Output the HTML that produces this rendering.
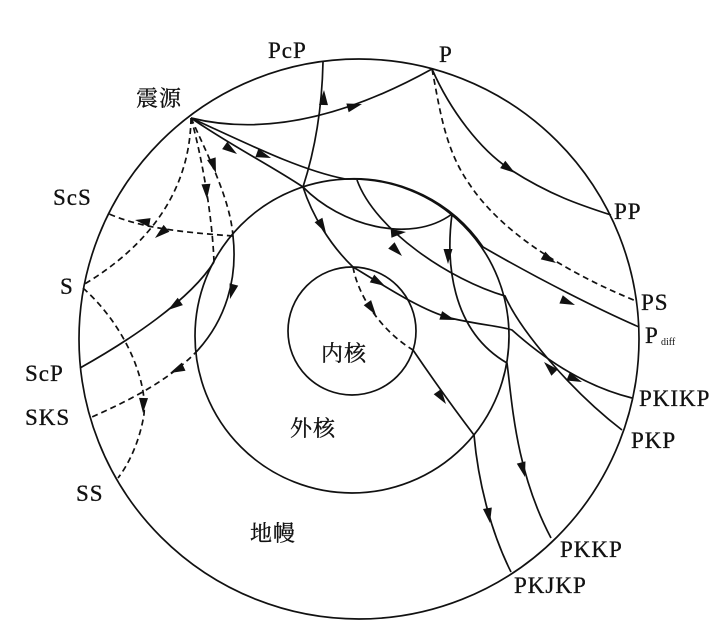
<!DOCTYPE html>
<html><head><meta charset="utf-8"><style>
html,body{margin:0;padding:0;background:#fff;}
svg{display:block;}
text{font-family:"Liberation Serif","Noto Serif CJK SC",serif;font-size:23px;fill:#111;letter-spacing:1px;stroke:#111;stroke-width:0.3px;}
.cjk{font-family:"Liberation Serif","Noto Serif CJK SC","Noto Sans CJK SC",serif;font-size:22px;}
</style></head><body>
<svg width="727" height="644" viewBox="0 0 727 644" xmlns="http://www.w3.org/2000/svg">
<g fill="none" stroke="#111" stroke-width="1.7">
<circle cx="359" cy="339" r="280"/>
<circle cx="352" cy="336" r="157"/>
<circle cx="352" cy="331" r="64"/>
<path d="M191,118 C260,135 340,120 432,69"/>
<path d="M191,118 C230,145 270,165 303,187"/>
<path d="M303,187 C315,150 322,110 323,62"/>
<path d="M191,118 C250,145 300,170 345,179 A157,157 0 0 1 483,247 C540,280 600,310 639,327"/>
<path d="M303,187 C340,225 410,245 452,214"/>
<path d="M452,214 C446,260 450,330 507,363 C512,400 515,470 551,538"/>
<path d="M357,180 C375,230 450,280 505,296 C520,330 570,390 622,430"/>
<path d="M303,187 C312,215 330,245 353,267"/>
<path d="M353,267 C380,283 420,310 450,318 C480,325 500,326 512,330 C540,355 580,385 632,398"/>
<path d="M353,267 C358,295 380,330 413,350" stroke-dasharray="6,4"/>
<path d="M413,350 C430,375 455,410 474,435 C478,480 490,530 511,572"/>
<path d="M432,69 C450,110 480,150 511,170 C550,195 580,205 611,215"/>
<path d="M432,69 C440,110 445,150 470,185 C500,230 560,270 636,301" stroke-dasharray="6,4"/>
<path d="M191,118 C190,190 150,245 83,285" stroke-dasharray="6,4"/>
<path d="M191,118 C200,150 212,210 214,262" stroke-dasharray="6,4"/>
<path d="M214,262 C190,300 130,340 80,368"/>
<path d="M191,118 C210,160 230,200 233,236" stroke-dasharray="6,4"/>
<path d="M233,236 C238,280 225,320 198,350"/>
<path d="M198,350 C170,380 130,400 92,417" stroke-dasharray="6,4"/>
<path d="M233,236 C180,232 140,228 107,213" stroke-dasharray="6,4"/>
<path d="M83,288 C130,330 150,390 143,420 C138,445 128,465 118,478" stroke-dasharray="6,4"/>
</g>
<g fill="#111">
<polygon points="0,0 -15,-4.5 -15,4.5" transform="translate(362,104) rotate(-15)"/>
<polygon points="0,0 -15,-4.5 -15,4.5" transform="translate(237,154) rotate(35)"/>
<polygon points="0,0 -15,-4.5 -15,4.5" transform="translate(271,158) rotate(20)"/>
<polygon points="0,0 -15,-4.5 -15,4.5" transform="translate(324,90) rotate(-88)"/>
<polygon points="0,0 -15,-4.5 -15,4.5" transform="translate(406,232) rotate(-5)"/>
<polygon points="0,0 -15,-4.5 -15,4.5" transform="translate(326,233) rotate(60)"/>
<polygon points="0,0 -15,-4.5 -15,4.5" transform="translate(385,286) rotate(30)"/>
<polygon points="0,0 -15,-4.5 -15,4.5" transform="translate(376,315) rotate(55)"/>
<polygon points="0,0 -15,-4.5 -15,4.5" transform="translate(402,256) rotate(45)"/>
<polygon points="0,0 -15,-4.5 -15,4.5" transform="translate(448,264) rotate(90)"/>
<polygon points="0,0 -15,-4.5 -15,4.5" transform="translate(455,320) rotate(18)"/>
<polygon points="0,0 -15,-4.5 -15,4.5" transform="translate(575,305) rotate(22)"/>
<polygon points="0,0 -15,-4.5 -15,4.5" transform="translate(515,173) rotate(35)"/>
<polygon points="0,0 -15,-4.5 -15,4.5" transform="translate(556,263) rotate(30)"/>
<polygon points="0,0 -15,-4.5 -15,4.5" transform="translate(582,382) rotate(22)"/>
<polygon points="0,0 -15,-4.5 -15,4.5" transform="translate(544,362) rotate(-135)"/>
<polygon points="0,0 -15,-4.5 -15,4.5" transform="translate(446,404) rotate(55)"/>
<polygon points="0,0 -15,-4.5 -15,4.5" transform="translate(490,523) rotate(80)"/>
<polygon points="0,0 -15,-4.5 -15,4.5" transform="translate(525,477) rotate(75)"/>
<polygon points="0,0 -15,-4.5 -15,4.5" transform="translate(155,238) rotate(140)"/>
<polygon points="0,0 -15,-4.5 -15,4.5" transform="translate(207,199) rotate(86)"/>
<polygon points="0,0 -15,-4.5 -15,4.5" transform="translate(216,173) rotate(72)"/>
<polygon points="0,0 -15,-4.5 -15,4.5" transform="translate(135,220) rotate(190)"/>
<polygon points="0,0 -15,-4.5 -15,4.5" transform="translate(230,299) rotate(105)"/>
<polygon points="0,0 -15,-4.5 -15,4.5" transform="translate(168,310) rotate(145)"/>
<polygon points="0,0 -15,-4.5 -15,4.5" transform="translate(170,373) rotate(155)"/>
<polygon points="0,0 -15,-4.5 -15,4.5" transform="translate(143,413) rotate(92)"/>
</g>
<text x="268" y="58">PcP</text>
<text x="439" y="62">P</text>
<text x="136" y="106" class="cjk">震源</text>
<text x="53" y="205">ScS</text>
<text x="60" y="294">S</text>
<text x="25" y="381">ScP</text>
<text x="25" y="425">SKS</text>
<text x="76" y="501">SS</text>
<text x="614" y="219">PP</text>
<text x="641" y="310">PS</text>
<text x="645" y="343">P</text>
<text x="661" y="345" style="font-size:10px;letter-spacing:0;stroke-width:0">diff</text>
<text x="639" y="406">PKIKP</text>
<text x="631" y="448">PKP</text>
<text x="560" y="557">PKKP</text>
<text x="514" y="593">PKJKP</text>
<text x="321" y="361" class="cjk">内核</text>
<text x="290" y="436" class="cjk">外核</text>
<text x="250" y="541" class="cjk">地幔</text>
</svg>
</body></html>
